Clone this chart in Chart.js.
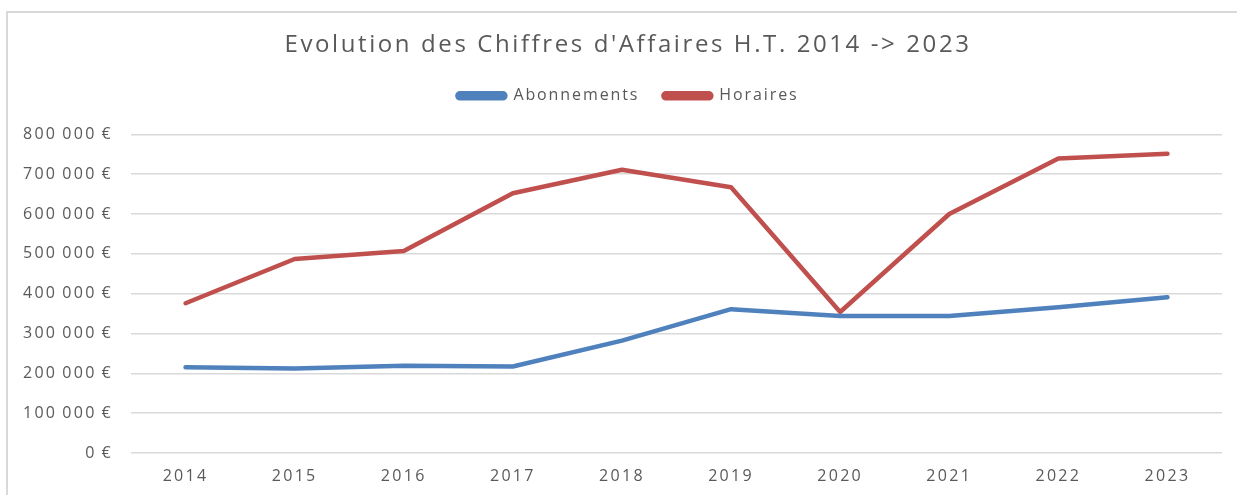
<!DOCTYPE html>
<html><head><meta charset="utf-8">
<script src="https://cdn.jsdelivr.net/npm/chart.js@4.4.0/dist/chart.umd.min.js"></script>
<style>
html,body{margin:0;padding:0;background:#fff;overflow:hidden}
#wrap{position:relative;width:1237px;height:495px}
#frame{position:absolute;left:6px;top:11px;width:1240px;height:500px;border-left:2px solid #d9d9d9;border-top:2px solid #d9d9d9;box-sizing:border-box}
canvas{position:absolute;left:0;top:0}
</style></head><body>
<div id="wrap"><div id="frame"></div><canvas id="c" width="1237" height="495"></canvas></div>
<script>
const years = ['2014','2015','2016','2017','2018','2019','2020','2021','2022','2023'];
const abonnements = [215000,212000,219000,217000,282000,361000,344000,344000,366000,391000];
const horaires = [376000,487000,507000,652000,711000,667000,354000,600000,739000,751000];
const seriesNames = ['Abonnements','Horaires'];
const titleText = "Evolution des Chiffres d'Affaires H.T. 2014 -> 2023";

const FONT = "'Open Sans', sans-serif";
const TXT = '#595959';
function fmt(v){ return v === 0 ? '0\u2009€' : String(v).replace(/\B(?=(\d{3})+(?!\d))/g, '\u2009') + '\u2009€'; }

function withSpacing(obj, name, sp, dx){
  const orig = obj[name];
  obj[name] = function(...a){
    const ctx = this.ctx; const prev = ctx.letterSpacing;
    ctx.save();
    ctx.letterSpacing = sp;
    if (dx) ctx.translate(dx, 0);
    try { return orig.apply(this, a); } finally { ctx.restore(); ctx.letterSpacing = prev; }
  };
}
const spacing = {
  id: 'spacing',
  beforeLayout(c){
    const set = [[c.titleBlock, '2.6px', 17], [c.legend, '1.9px', 17], [c.scales.x, '2.3px', 0], [c.scales.y, '2.3px', 0]];
    for (const [b, sp, dx] of set){
      if (!b || b._spaced) continue;
      b._spaced = true;
      withSpacing(b, 'update', sp, 0);
      withSpacing(b, 'draw', sp, dx);
    }
  }
};

new Chart(document.getElementById('c'), {
  type: 'line',
  plugins: [spacing],
  data: {
    labels: years,
    datasets: [
      {label: seriesNames[0], data: abonnements, borderColor: '#4F81BD', backgroundColor: '#4F81BD', borderWidth: 4.5, pointRadius: 0, tension: 0, borderCapStyle: 'round', borderJoinStyle: 'round'},
      {label: seriesNames[1], data: horaires, borderColor: '#C0504D', backgroundColor: '#C0504D', borderWidth: 4.5, pointRadius: 0, tension: 0, borderCapStyle: 'round', borderJoinStyle: 'round'}
    ]
  },
  options: {
    responsive: false,
    animation: false,
    layout: {padding: {left: 0, right: 15, top: 0, bottom: 0}},
    plugins: {
      title: {display: true, text: titleText, color: TXT, font: {family: FONT, size: 24, weight: 'normal'}, padding: {top: 31, bottom: 4}},
      subtitle: {display: true, text: ' ', weight: 500, font: {size: 10}, padding: {top: 8.5, bottom: 0}},
      legend: {position: 'top', labels: {color: TXT, font: {family: FONT, size: 16}, boxWidth: 48, boxHeight: 5, useBorderRadius: true, borderRadius: 2.5, padding: 24}},
      tooltip: {enabled: false}
    },
    scales: {
      x: {offset: true, grid: {display: false, drawTicks: false}, border: {display: false}, ticks: {color: TXT, font: {family: FONT, size: 16}, padding: 14},
          afterFit: s => { s.height = 42; }},
      y: {min: 0, max: 800000, ticks: {stepSize: 100000, color: TXT, font: {family: FONT, size: 16}, padding: 18, callback: v => fmt(v)},
          grid: {color: '#d9d9d9', lineWidth: 1.5, drawTicks: false}, border: {display: false},
          afterFit: s => { s.width = 131; }}
    }
  }
});
</script></body></html>
